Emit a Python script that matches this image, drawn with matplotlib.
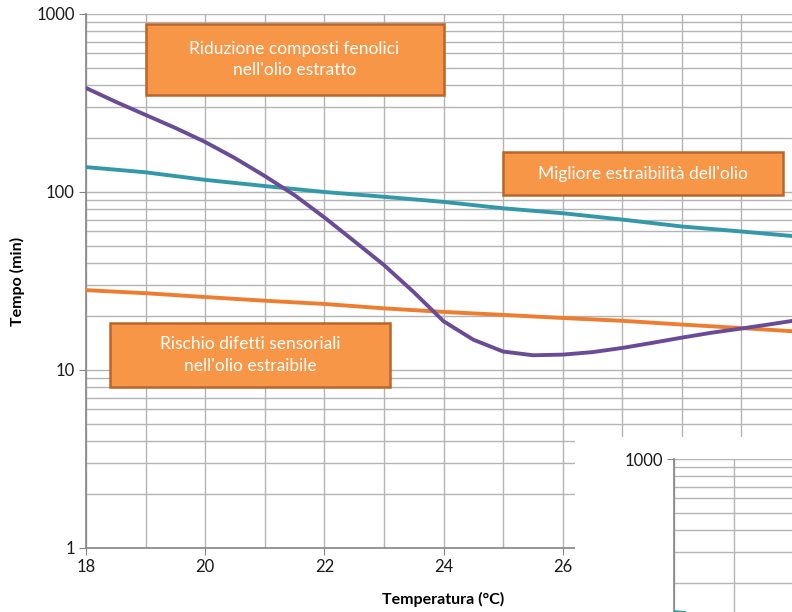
import numpy as np
import matplotlib
matplotlib.use("Agg")
import matplotlib.pyplot as plt
from matplotlib.patches import Rectangle
from matplotlib.ticker import FixedLocator, FuncFormatter, LogLocator, NullFormatter

plt.rcParams['font.family'] = ['Lato', 'DejaVu Sans']

# data (temperature in degC, time in min)
temp = [18, 18.5, 19, 19.5, 20, 20.5, 21, 21.5, 22, 22.5, 23, 23.5, 24, 24.5,
        25, 25.5, 26, 26.5, 27, 27.5, 28, 28.5, 29, 29.5, 30]
phenols = [384, 321, 271, 229, 191, 155, 123, 96, 72, 53, 38.9, 27.4, 18.8, 14.8,
           12.7, 12.1, 12.2, 12.6, 13.3, 14.2, 15.2, 16.2, 17.1, 18.1, 19.2]

temp2 = [18, 19, 20, 21, 22, 23, 24, 25, 26, 27, 28, 29, 30]
extract = [138, 129, 117, 108, 100, 94, 88, 81, 76, 70, 64, 60, 56]
defects = [28.1, 27.0, 25.7, 24.5, 23.5, 22.2, 21.2, 20.4, 19.6, 18.9, 18.0, 17.2, 16.4]

xticks = [18, 20, 22, 24, 26]
yticks = [1, 10, 100, 1000]

teal = '#3399a8'
orange = '#ed7d31'
purple = '#6a4c96'
box_fill = '#f79646'
box_edge = '#b9652c'
grid_c = '#b4b4b4'

fig = plt.figure(figsize=(7.92, 6.12), dpi=100)

def setup(ax):
    ax.set_yscale('log')
    ax.set_xlim(18, 30)
    ax.set_ylim(1, 1000)
    ax.xaxis.set_major_locator(FixedLocator(xticks))
    ax.xaxis.set_minor_locator(FixedLocator(np.arange(18, 31, 1)))
    ax.yaxis.set_major_locator(FixedLocator(yticks))
    ax.yaxis.set_minor_locator(LogLocator(base=10, subs=np.arange(2, 10)))
    ax.yaxis.set_major_formatter(FuncFormatter(lambda v, p: '%d' % v))
    ax.yaxis.set_minor_formatter(NullFormatter())
    ax.grid(True, which='both', color=grid_c, lw=1.0)
    ax.set_axisbelow(True)
    for s in ['top', 'right']:
        ax.spines[s].set_visible(False)
    for s in ['left', 'bottom']:
        ax.spines[s].set_color('#868686')
        ax.spines[s].set_linewidth(1.2)
    ax.tick_params(which='major', length=5, color='#868686', labelsize=12,
                   labelcolor='#1a1a1a', pad=3)
    ax.tick_params(which='minor', length=0)

# main chart, extends past the right edge of the picture
ax = fig.add_axes([86 / 792, 1 - 548 / 612, 715 / 792, 534 / 612])
setup(ax)
ax.plot(temp2, extract, color=teal, lw=2.8, zorder=3)
ax.plot(temp2, defects, color=orange, lw=2.8, zorder=3)
ax.plot(temp, phenols, color=purple, lw=2.8, zorder=4)
ax.set_xlabel('Temperatura (°C)', fontsize=11.5, fontweight='bold', labelpad=12)
ax.set_ylabel('Tempo (min)', fontsize=11.5, fontweight='bold', labelpad=8)

boxes = [
    (19.0, 351, 24.0, 878, "Riduzione composti fenolici\nnell'olio estratto"),
    (25.0, 96, 29.7, 168, "Migliore estraibilità dell'olio"),
    (18.4, 8.0, 23.1, 18.4, "Rischio difetti sensoriali\nnell'olio estraibile"),
]
for x0, y0, x1, y1, txt in boxes:
    ax.add_patch(Rectangle((x0, y0), x1 - x0, y1 - y0, facecolor=box_fill,
                           edgecolor=box_edge, lw=1.8, zorder=5))
    ax.text((x0 + x1) / 2, np.sqrt(y0 * y1), txt, ha='center', va='center',
            color='white', fontsize=12.5, linespacing=1.45, zorder=6)

# second copy of the chart pasted over the bottom right corner
cover = fig.add_axes([575 / 792, 0, 217 / 792, 175 / 612])
cover.set_facecolor('white')
cover.set_xticks([])
cover.set_yticks([])
for s in cover.spines.values():
    s.set_visible(False)
cover.set_zorder(10)

inset = fig.add_axes([674 / 792, 1 - 993 / 612, 715 / 792, 534 / 612])
inset.set_zorder(11)
setup(inset)
inset.set_xticklabels([])
inset.yaxis.set_major_formatter(FuncFormatter(lambda v, p: '1000' if v == 1000 else ''))
inset.plot(temp2, extract, color=teal, lw=2.8, zorder=3)

fig.savefig('out.png', dpi=100)
